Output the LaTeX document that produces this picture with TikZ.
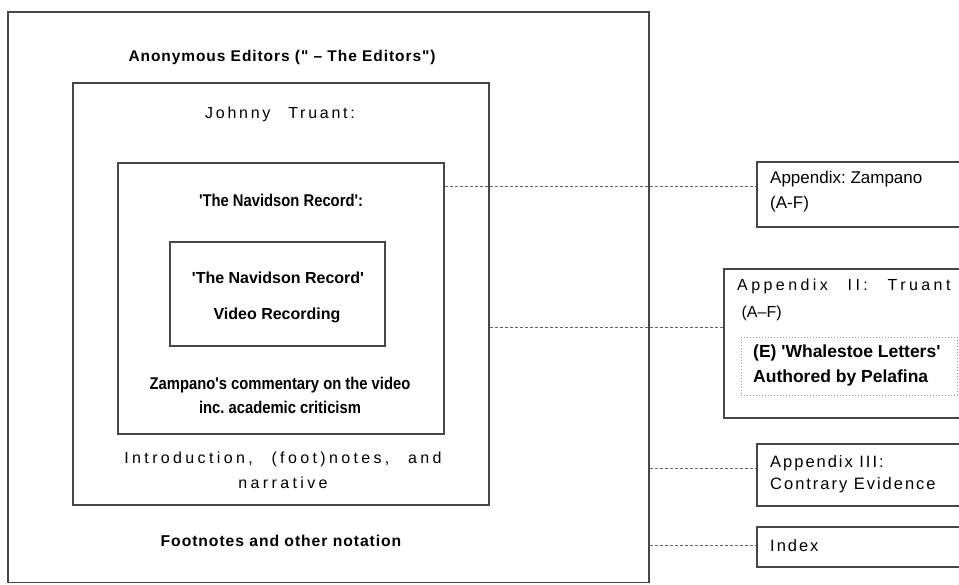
\documentclass[tikz,border=0pt]{standalone}
\usepackage{fontspec}
\setmainfont{Liberation Sans}
\newfontfamily\plainf{Liberation Sans}
\newfontfamily\boldsp[LetterSpace=6]{Liberation Sans}
\newfontfamily\johnsp[LetterSpace=17,WordSpace=2.5]{Liberation Sans}
\newfontfamily\widesp[LetterSpace=21,WordSpace=2.4]{Liberation Sans}
\newfontfamily\narrowf[FakeStretch=0.87]{Liberation Sans}
\newfontfamily\appsp[LetterSpace=12]{Liberation Sans}
\newfontfamily\truantsp[LetterSpace=21.5,WordSpace=2.5]{Liberation Sans}
\frenchspacing
\begin{document}
\begin{tikzpicture}[x=1pt,y=-1pt,
  box/.style={draw=black!72,line width=1.3pt,inner sep=0pt,fill=none},
  dotbox/.style={draw=black!40,dotted,line width=1pt,inner sep=0pt},
  conn/.style={draw=black!60,line width=0.9pt,dash pattern=on 3pt off 2pt},
  txt/.style={text=black,inner sep=0pt,align=center},
  ltxt/.style={text=black,inner sep=0pt,align=left,anchor=west}]
\clip (0,0) rectangle (959,584);
\fill[white] (0,0) rectangle (959,584);
% boxes
\node[box,minimum width=641pt,minimum height=570.5pt] (outer) at (328.5,297.25) {};
\node[box,minimum width=416pt,minimum height=422pt] (johnny) at (281,294) {};
\node[box,minimum width=326pt,minimum height=271pt] (nav) at (281,298.5) {};
\node[box,minimum width=215pt,minimum height=104pt] (vid) at (277.5,294) {};
\node[box,minimum width=218pt,minimum height=65pt] (appz) at (866,194.5) {};
\node[box,minimum width=251pt,minimum height=149pt] (app2) at (849.5,343.5) {};
\node[dotbox,minimum width=216pt,minimum height=58pt] (wl) at (849,366) {};
\node[box,minimum width=218pt,minimum height=62pt] (app3) at (866,475) {};
\node[box,minimum width=218pt,minimum height=40pt] (idx) at (866,547) {};
% texts
\node[txt,font=\boldsp\bfseries\fontsize{15.5}{18}\selectfont] (t1) at (282,57) {Anonymous Editors (" – The Editors")};
\node[txt,font=\johnsp\fontsize{16}{19}\selectfont] (t2) at (280,114) {Johnny Truant:};
\node[txt,font=\narrowf\bfseries\fontsize{17}{20}\selectfont] (t3) at (281,200) {'The Navidson Record':};
\node[txt,font=\plainf\bfseries\fontsize{16}{19}\selectfont] (t4) at (278,278) {'The Navidson Record'};
\node[txt,font=\plainf\bfseries\fontsize{16}{19}\selectfont] (t5) at (277,315) {Video Recording};
\node[txt,font=\narrowf\bfseries\fontsize{17}{24}\selectfont] (t6) at (280,395) {Zampano's commentary on the video\\inc. academic criticism};
\node[txt,font=\widesp\fontsize{16}{25}\selectfont] (t7) at (283,470.5) {Introduction, (foot)notes, and\\narrative};
\node[txt,font=\boldsp\bfseries\fontsize{15.7}{18}\selectfont] (t8) at (281,541) {Footnotes and other notation};
\node[ltxt,font=\plainf\fontsize{17}{25}\selectfont] (ta) at (770,192) {Appendix: Zampano\\(A-F)};
\node[ltxt,font=\plainf\fontsize{16}{27}\selectfont] (tb) at (737,299.5) {{\truantsp Appendix II: Truant}\\\ (A–F)};
\node[ltxt,font=\plainf\bfseries\fontsize{17.5}{25}\selectfont] (tc) at (753,365.5) {(E) 'Whalestoe Letters'\\Authored by Pelafina};
\node[ltxt,font=\appsp\fontsize{16.5}{22}\selectfont] (td) at (770,474) {Appendix III:\\Contrary Evidence};
\node[ltxt,font=\appsp\fontsize{16.5}{20}\selectfont] (te) at (770,546) {Index};
% connectors
\coordinate (c1) at (nav.east |- 0,186);
\coordinate (c2) at (johnny.east |- 0,327);
\coordinate (c3) at (outer.east |- 0,468);
\coordinate (c4) at (outer.east |- 0,545);
\draw[conn] (c1) -- (c1 -| appz.west);
\draw[conn] (c2) -- (c2 -| app2.west);
\draw[conn] (c3) -- (c3 -| app3.west);
\draw[conn] (c4) -- (c4 -| idx.west);
\end{tikzpicture}
\end{document}
